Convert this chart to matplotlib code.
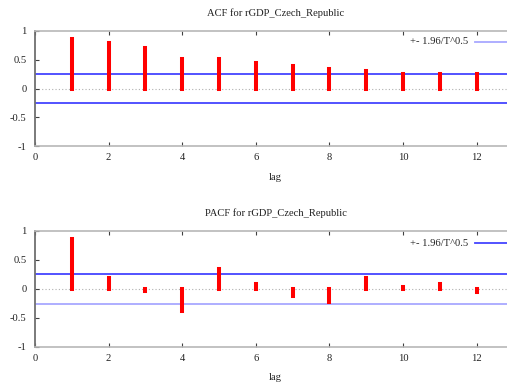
import matplotlib
matplotlib.use("Agg")
import matplotlib.pyplot as plt
import numpy as np

lags = list(range(1, 13))
acf_values = [0.86, 0.79, 0.70, 0.52, 0.51, 0.45, 0.39, 0.34, 0.30, 0.25, 0.25, 0.25]
pacf_values = [0.86, 0.19, -0.035, -0.385, 0.335, 0.085, -0.125, -0.235, 0.195, 0.025, 0.085, -0.055]
conf_bound = 0.255
x_ticks = [0, 2, 4, 6, 8, 10, 12]
y_ticks = [-1, -0.5, 0, 0.5, 1]
y_tick_labels = ["-1", "-0.5", "0", "0.5", "1"]
titles = ["ACF for rGDP_Czech_Republic", "PACF for rGDP_Czech_Republic"]
legend_label = "+- 1.96/T^0.5"

W, H = 507, 387
fig = plt.figure(figsize=(W / 100, H / 100), dpi=100)
font = "Liberation Serif"
text_col = "#222222"
fs = 7.6

BLUE = "#4444ff"
LIGHT_BLUE = "#a8a8ff"


def px_box(left, top, right, bottom):
    return [left / W, 1 - bottom / H, (right - left) / W, (bottom - top) / H]


panels = [
    dict(values=acf_values, box=(35, 31, 513.5, 146), title_y=13, lag_y=178,
         leg_y=42, up=BLUE, low=BLUE, leg=LIGHT_BLUE),
    dict(values=pacf_values, box=(35, 231, 513.5, 346.7), title_y=213, lag_y=378,
         leg_y=243, up=BLUE, low=LIGHT_BLUE, leg=BLUE),
]

for title, p in zip(titles, panels):
    ax = fig.add_axes(px_box(*p["box"]))
    ax.set_xlim(0, 13)
    ax.set_ylim(-1, 1)
    ax.axhline(0, color="#b0b0b0", lw=0.8, ls=(0, (1, 2)), zorder=1)
    ax.axhline(conf_bound, color=p["up"], lw=1.3, zorder=2)
    ax.axhline(-conf_bound, color=p["low"], lw=1.3, zorder=2)
    ax.vlines(lags, 0, p["values"], color="#ff0000", lw=2.9, zorder=3,
              capstyle="projecting")
    ax.set_xticks(x_ticks)
    ax.set_yticks(y_ticks)
    ax.set_yticklabels(y_tick_labels)
    ax.tick_params(axis="both", direction="in", length=3, width=0.8,
                   colors="#404040", labelsize=fs, labelcolor=text_col,
                   top=True, right=True)
    ax.tick_params(axis="x", pad=5)
    ax.tick_params(axis="y", pad=6)
    for lab in ax.get_xticklabels() + ax.get_yticklabels():
        lab.set_fontfamily(font)
    ax.spines["left"].set_color("#707070")
    ax.spines["left"].set_linewidth(1.3)
    for s in ("top", "bottom", "right"):
        ax.spines[s].set_color("#b8b8b8")
        ax.spines[s].set_linewidth(1.2)

    fig.text(276 / W, 1 - p["title_y"] / H, title, ha="center", va="center",
             fontsize=fs, family=font, color=text_col)
    fig.text(275 / W, 1 - p["lag_y"] / H, "lag", ha="center", va="center",
             fontsize=fs, family=font, color=text_col)
    fig.text(468 / W, 1 - p["leg_y"] / H, legend_label, ha="right", va="center",
             fontsize=fs, family=font, color=text_col)
    ax.plot([475 / W, 1.02], [1 - p["leg_y"] / H] * 2, transform=fig.transFigure,
            color=p["leg"], lw=1.3, clip_on=False)

fig.savefig("out.png", dpi=100, facecolor="white")
